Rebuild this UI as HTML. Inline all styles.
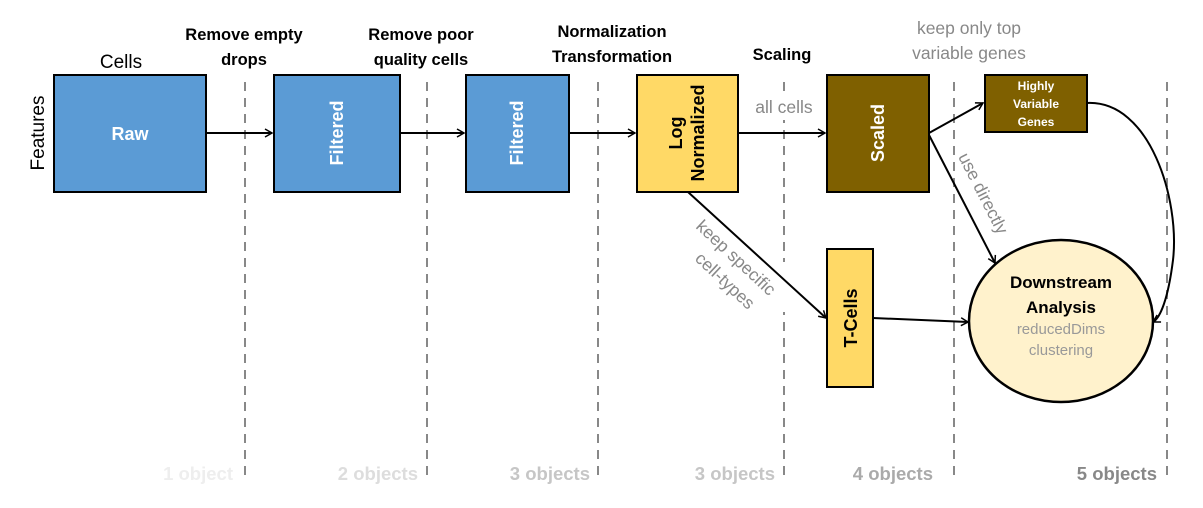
<!DOCTYPE html>
<html><head><meta charset="utf-8"><style>
html,body{margin:0;padding:0;background:#fff;}
svg{display:block;font-family:"Liberation Sans",sans-serif;}
</style></head><body>
<svg width="1203" height="508" viewBox="0 0 1203 508" xmlns="http://www.w3.org/2000/svg">
<defs>
<marker id="a" markerWidth="10" markerHeight="10" refX="8" refY="5" orient="auto" markerUnits="userSpaceOnUse">
<path d="M1,1 L8,5 L1,9" fill="none" stroke="#000" stroke-width="1.5"/>
</marker>
</defs>
<g stroke="#888" stroke-width="2" stroke-dasharray="9,7">
<line x1="245" y1="82" x2="245" y2="482"/>
<line x1="427" y1="82" x2="427" y2="482"/>
<line x1="598" y1="82" x2="598" y2="482"/>
<line x1="784" y1="82" x2="784" y2="482"/>
<line x1="954" y1="82" x2="954" y2="482"/>
<line x1="1167" y1="82" x2="1167" y2="482"/>
</g>
<rect x="752" y="94" width="64" height="26" fill="#fff"/>
<rect x="776" y="262" width="16" height="50" fill="#fff"/>
<g stroke="#000" stroke-width="2" fill="none">
<line x1="206" y1="133" x2="272" y2="133" marker-end="url(#a)"/>
<line x1="400" y1="133" x2="464" y2="133" marker-end="url(#a)"/>
<line x1="569" y1="133" x2="635" y2="133" marker-end="url(#a)"/>
<line x1="738" y1="133" x2="825" y2="133" marker-end="url(#a)"/>
<line x1="929" y1="133" x2="983" y2="103" marker-end="url(#a)"/>
<line x1="929" y1="135" x2="995" y2="263" marker-end="url(#a)"/>
<line x1="688" y1="192" x2="826" y2="318" marker-end="url(#a)"/>
<line x1="873" y1="318" x2="968" y2="322" marker-end="url(#a)"/>
<path d="M1087,103 C1150,100 1180,200 1173,260 C1168,300 1160,318 1153,322" marker-end="url(#a)"/>
</g>
<g stroke="#000" stroke-width="2">
<rect x="54" y="75" width="152" height="117" fill="#5b9bd5"/>
<rect x="274" y="75" width="126" height="117" fill="#5b9bd5"/>
<rect x="466" y="75" width="103" height="117" fill="#5b9bd5"/>
<rect x="637" y="75" width="101" height="117" fill="#ffd966"/>
<rect x="827" y="75" width="102" height="117" fill="#7f6000"/>
<rect x="985" y="75" width="102" height="57" fill="#7f6000"/>
<rect x="827" y="249" width="46" height="138" fill="#ffd966"/>
<ellipse cx="1061" cy="321" rx="92" ry="81" fill="#fff2cc" stroke-width="2.5"/>
</g>
<g font-weight="bold" text-anchor="middle">
<text x="130" y="140" fill="#fff" font-size="18">Raw</text>
<text transform="translate(343,133) rotate(-90)" fill="#fff" font-size="18">Filtered</text>
<text transform="translate(523,133) rotate(-90)" fill="#fff" font-size="18">Filtered</text>
<text transform="translate(682,133) rotate(-90)" fill="#000" font-size="18">Log</text>
<text transform="translate(704,133) rotate(-90)" fill="#000" font-size="18">Normalized</text>
<text transform="translate(884,133) rotate(-90)" fill="#fff" font-size="18">Scaled</text>
<text x="1036" y="90" fill="#fff" font-size="12">Highly</text>
<text x="1036" y="108" fill="#fff" font-size="12">Variable</text>
<text x="1036" y="126" fill="#fff" font-size="12">Genes</text>
<text transform="translate(857,318) rotate(-90)" fill="#000" font-size="18">T-Cells</text>
<text x="1061" y="288" fill="#000" font-size="17">Downstream</text>
<text x="1061" y="313" fill="#000" font-size="17">Analysis</text>
</g>
<g text-anchor="middle" fill="#999" font-size="15">
<text x="1061" y="334">reducedDims</text>
<text x="1061" y="355">clustering</text>
</g>
<text x="121" y="68" font-size="19" text-anchor="middle">Cells</text>
<text transform="translate(44,133) rotate(-90)" font-size="19" text-anchor="middle">Features</text>
<g font-weight="bold" font-size="16.5" text-anchor="middle" fill="#000">
<text x="244" y="40">Remove empty</text>
<text x="244" y="65">drops</text>
<text x="421" y="40">Remove poor</text>
<text x="421" y="65">quality cells</text>
<text x="612" y="37">Normalization</text>
<text x="612" y="62">Transformation</text>
<text x="782" y="60">Scaling</text>
</g>
<g fill="#888" font-size="17.5" text-anchor="middle">
<text x="969" y="34">keep only top</text>
<text x="969" y="59">variable genes</text>
<text x="784" y="113">all cells</text>
<text transform="translate(732,262) rotate(43)">keep specific</text>
<text transform="translate(721,285) rotate(43)">cell-types</text>
<text transform="translate(978,196) rotate(63)">use directly</text>
</g>
<g font-weight="bold" font-size="18.5" text-anchor="end">
<text x="233" y="480" fill="#eeeeee">1 object</text>
<text x="418" y="480" fill="#dddddd">2 objects</text>
<text x="590" y="480" fill="#c6c6c6">3 objects</text>
<text x="775" y="480" fill="#c6c6c6">3 objects</text>
<text x="933" y="480" fill="#aaaaaa">4 objects</text>
<text x="1157" y="480" fill="#888888">5 objects</text>
</g>
</svg>
</body></html>
